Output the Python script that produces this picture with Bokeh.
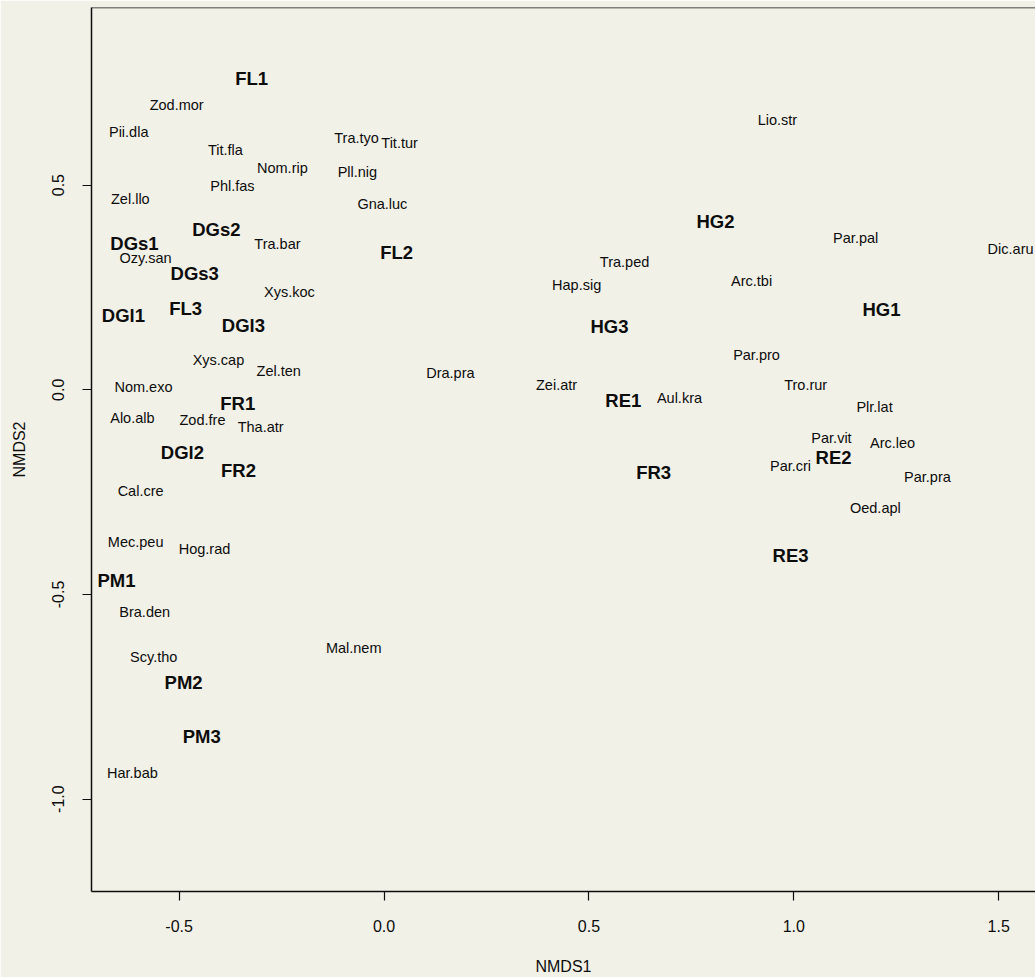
from bokeh.plotting import figure
from bokeh.models import ColumnDataSource, FixedTicker, NumeralTickFormatter, Span, Range1d
from bokeh.core.properties import value
from bokeh.embed import file_html
from bokeh.resources import INLINE

# ---- data (NMDS scores) ----
site_names = ["FL1", "FL2", "FL3", "DGs1", "DGs2", "DGs3", "DGl1", "DGl2", "DGl3",
              "FR1", "FR2", "FR3", "HG1", "HG2", "HG3", "RE1", "RE2", "RE3",
              "PM1", "PM2", "PM3"]
site_x = [-0.323, 0.031, -0.484, -0.609, -0.409, -0.462, -0.636, -0.492, -0.343,
          -0.357, -0.355, 0.658, 1.214, 0.809, 0.550, 0.584, 1.097, 0.992,
          -0.653, -0.489, -0.445]
site_y = [0.761, 0.335, 0.199, 0.357, 0.392, 0.284, 0.182, -0.153, 0.157,
          -0.033, -0.197, -0.202, 0.196, 0.411, 0.155, -0.026, -0.165, -0.405,
          -0.466, -0.715, -0.847]

species_names = ["Zod.mor", "Pii.dla", "Tit.fla", "Nom.rip", "Phl.fas", "Zel.llo",
                 "Tra.bar", "Ozy.san", "Xys.koc", "Xys.cap", "Zel.ten", "Nom.exo",
                 "Alo.alb", "Zod.fre", "Tha.atr", "Cal.cre", "Mec.peu", "Hog.rad",
                 "Bra.den", "Scy.tho", "Har.bab", "Tra.tyo", "Tit.tur", "Pll.nig",
                 "Gna.luc", "Mal.nem", "Dra.pra", "Zei.atr", "Tra.ped", "Hap.sig",
                 "Aul.kra", "Lio.str", "Par.pal", "Dic.aru", "Arc.tbi", "Par.pro",
                 "Tro.rur", "Plr.lat", "Par.vit", "Arc.leo", "Par.cri", "Par.pra",
                 "Oed.apl"]
species_x = [-0.506, -0.623, -0.387, -0.248, -0.370, -0.619,
             -0.260, -0.582, -0.231, -0.404, -0.257, -0.587,
             -0.614, -0.443, -0.301, -0.594, -0.606, -0.438,
             -0.584, -0.562, -0.614, -0.067, 0.038, -0.065,
             -0.004, -0.074, 0.162, 0.421, 0.587, 0.470,
             0.721, 0.960, 1.151, 1.529, 0.897, 0.909,
             1.029, 1.197, 1.092, 1.241, 0.992, 1.326,
             1.199]
species_y = [0.697, 0.629, 0.587, 0.541, 0.499, 0.465,
             0.355, 0.321, 0.238, 0.072, 0.045, 0.008,
             -0.068, -0.073, -0.092, -0.248, -0.371, -0.390,
             -0.544, -0.652, -0.937, 0.614, 0.604, 0.531,
             0.453, -0.630, 0.040, 0.011, 0.311, 0.257,
             -0.021, 0.660, 0.372, 0.343, 0.265, 0.084,
             0.011, -0.041, -0.119, -0.129, -0.185, -0.214,
             -0.288]

x_ticks = [-0.5, 0.0, 0.5, 1.0, 1.5]
y_ticks = [-1.0, -0.5, 0.0, 0.5]
x_label = "NMDS1"
y_label = "NMDS2"

# ---- styling ----
BG = "#f2f1e7"
INK = "#0d0d0d"
FONT = "Liberation Sans"
X0, X1 = -0.7138, 1.5898
Y0, Y1 = -1.2258, 0.9340

p = figure(width=1035, height=977,
           x_range=Range1d(X0, X1), y_range=Range1d(Y0, Y1),
           output_backend="svg", toolbar_location=None,
           min_border_left=91, min_border_right=0,
           min_border_top=7, min_border_bottom=86,
           background_fill_color=BG, border_fill_color=BG)
p.outline_line_color = None
p.grid.visible = False

species_src = ColumnDataSource(dict(x=species_x, y=species_y, t=species_names))
site_src = ColumnDataSource(dict(x=site_x, y=site_y, t=site_names))

p.text(x="x", y="y", text="t", source=species_src,
       text_font=value(FONT), text_font_size="14.5px", text_color=INK,
       text_align="center", text_baseline="middle")
p.text(x="x", y="y", text="t", source=site_src,
       text_font=value(FONT), text_font_size="18.5px", text_font_style="bold",
       text_color=INK, text_align="center", text_baseline="middle")

# top side of the box
p.add_layout(Span(location=Y1, dimension="width", line_color=INK, line_width=1.5))

for ax in (p.xaxis[0], p.yaxis[0]):
    ax.axis_line_color = INK
    ax.axis_line_width = 1.5
    ax.major_tick_line_color = INK
    ax.major_tick_line_width = 1.2
    ax.major_tick_out = 9
    ax.major_tick_in = 0
    ax.minor_tick_line_color = None
    ax.major_label_text_font = FONT
    ax.major_label_text_font_size = "16px"
    ax.major_label_text_color = INK
    ax.axis_label_text_font = FONT
    ax.axis_label_text_font_size = "16px"
    ax.axis_label_text_font_style = "normal"
    ax.axis_label_text_color = INK
    ax.formatter = NumeralTickFormatter(format="0.0")

p.xaxis.ticker = FixedTicker(ticks=x_ticks)
p.yaxis.ticker = FixedTicker(ticks=y_ticks)
p.xaxis.axis_label = x_label
p.yaxis.axis_label = y_label
p.xaxis.major_label_standoff = 19
p.xaxis.axis_label_standoff = 23
p.yaxis.major_label_orientation = "vertical"
p.yaxis.major_label_standoff = 18
p.yaxis.axis_label_standoff = 22

open("out.html", "w").write(file_html(p, INLINE))
